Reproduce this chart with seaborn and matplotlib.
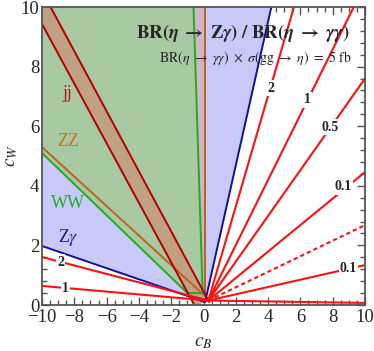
import numpy as np
import pandas as pd
import seaborn as sns
import matplotlib.pyplot as plt

# excluded regions (polygon corners in (c_B, c_W))
zgam_x = [-10, -10, 4.2, 0.1]
zgam_y = [1.98, 10, 10, 0.1]
zz_x = [-10, -10, 0.1, 0.1]
zz_y = [5.3, 10, 10, 0.3]
ww_x = [-10, -10, -0.62, -0.05, -1.0]
ww_y = [5.1, 10, 10, 0.4, 0.4]
jj_x = [-10, -10, -9.47, 0.35, -0.57]
jj_y = [9.43, 10, 10, 0.1, 0.0]

# contours of BR(Zgamma)/BR(gammagamma), from the origin out to the frame
origin = (0.3, 0.15)
cont_end_x = [5.6, 9.3, 10, 10, 10, 10, 10, -10, -10]
cont_end_y = [10, 10, 7.6, 4.46, 2.68, 1.34, 0.07, 1.61, 0.64]
cont_dotted = [False, False, False, False, True, False, False, False, False]
cont_labels = ['2', '1', '0.5', '0.1', '0.1', '2', '1']
cont_lab_x = [4.15, 6.44, 7.86, 8.67, 8.98, -8.85, -8.54]
cont_lab_y = [7.28, 6.88, 5.97, 3.96, 1.24, 1.44, 0.57]

sns.set_theme(style="ticks")
plt.rcParams['font.family'] = ['Liberation Serif', 'DejaVu Serif']
plt.rcParams['mathtext.fontset'] = 'stix'

fig = plt.figure(figsize=(3.74, 3.51), dpi=100)
ax = fig.add_axes([42/374, 46/351, 323/374, 298/351])

ax.fill(zgam_x, zgam_y, color='#c9c9f9', lw=0)
ax.fill(zz_x, zz_y, color='#d2b5c5', lw=0)
ax.fill(ww_x, ww_y, color='#a9c9a3', lw=0)
ax.fill(jj_x, jj_y, color='#c0a283', lw=0)

# boundary lines
def edge(xs, ys, c):
    sns.lineplot(x=xs, y=ys, ax=ax, color=c, lw=1.4, sort=False, estimator=None)

edge([zz_x[0], zz_x[3]], [zz_y[0], zz_y[3]], '#b8651c')
edge([zz_x[2], zz_x[3]], [zz_y[2], zz_y[3]], '#b8651c')
edge([ww_x[0], ww_x[4], ww_x[3], ww_x[2]], [ww_y[0], ww_y[4], ww_y[3], ww_y[2]], '#22aa22')
edge([zgam_x[0], zgam_x[3], zgam_x[2]], [zgam_y[0], zgam_y[3], zgam_y[2]], '#1010a0')
edge([jj_x[0], jj_x[4]], [jj_y[0], jj_y[4]], '#b00000')
edge([jj_x[2], jj_x[3]], [jj_y[2], jj_y[3]], '#b00000')

for ex, ey, dot in zip(cont_end_x, cont_end_y, cont_dotted):
    sns.lineplot(x=[origin[0], ex], y=[origin[1], ey], ax=ax, color='#ff1010',
                 lw=1.5, ls=(0, (2, 1.5)) if dot else '-', sort=False, estimator=None)

for t, lx, ly in zip(cont_labels, cont_lab_x, cont_lab_y):
    ax.text(lx, ly, t, ha='center', va='center', fontsize=10, fontweight='bold',
            bbox=dict(facecolor='white', edgecolor='none', pad=0.8))

ax.text(-8.42, 7.11, 'jj', color='#b01818', fontsize=13, ha='center', va='center')
ax.text(-8.36, 5.47, 'ZZ', color='#c87818', fontsize=13, ha='center', va='center')
ax.text(-8.42, 3.42, 'WW', color='#22aa22', fontsize=13, ha='center', va='center')
ax.text(-8.36, 2.25, r'Z$\gamma$', color='#1818a0', fontsize=13, ha='center', va='center')

ax.text(2.4, 9.13, r'$\mathbf{BR(}\mathbfit{\eta}\ \mathbf{\rightarrow}\ \mathbf{Z}\mathbfit{\gamma}'
        r'\mathbf{)\ /\ BR(}\mathbfit{\eta}\ \mathbf{\rightarrow}\ \mathbfit{\gamma\gamma}\mathbf{)}$',
        ha='center', va='center', fontsize=13.5)
ax.text(9.15, 8.29, r'$\mathrm{BR}(\eta\ \rightarrow\ \gamma\gamma)\ \times\ \sigma(\mathrm{gg}\ \rightarrow\ \eta)'
        r'\ =\ 5\ \mathrm{fb}$', ha='right', va='center', fontsize=10, color='#222222')

ax.set_xlim(-10, 10)
ax.set_ylim(0, 10)
ax.set_xticks(np.arange(-10, 11, 2))
ax.set_yticks(np.arange(0, 11, 2))
ax.set_xticks(np.arange(-10, 10.01, 0.5), minor=True)
ax.set_yticks(np.arange(0, 10.01, 0.4), minor=True)
ax.tick_params(which='both', direction='in', top=True, right=True, color='#555555',
               labelsize=13.5)
ax.tick_params(axis='x', pad=3)
ax.tick_params(axis='y', pad=2)
ax.tick_params(which='major', length=6, width=1)
ax.tick_params(which='minor', length=3.5, width=1)
for s in ax.spines.values():
    s.set_color('#555555')
    s.set_linewidth(1.3)

ax.set_xlabel(r'$c_B$', fontsize=14)
ax.set_ylabel(r'$c_W$', fontsize=14)
ax.xaxis.set_label_coords(0.5, -0.125)
ax.yaxis.set_label_coords(-0.093, 0.503)
ax.xaxis.label.set_va('center')
ax.yaxis.label.set_va('center')

fig.savefig('out.png', dpi=100)
